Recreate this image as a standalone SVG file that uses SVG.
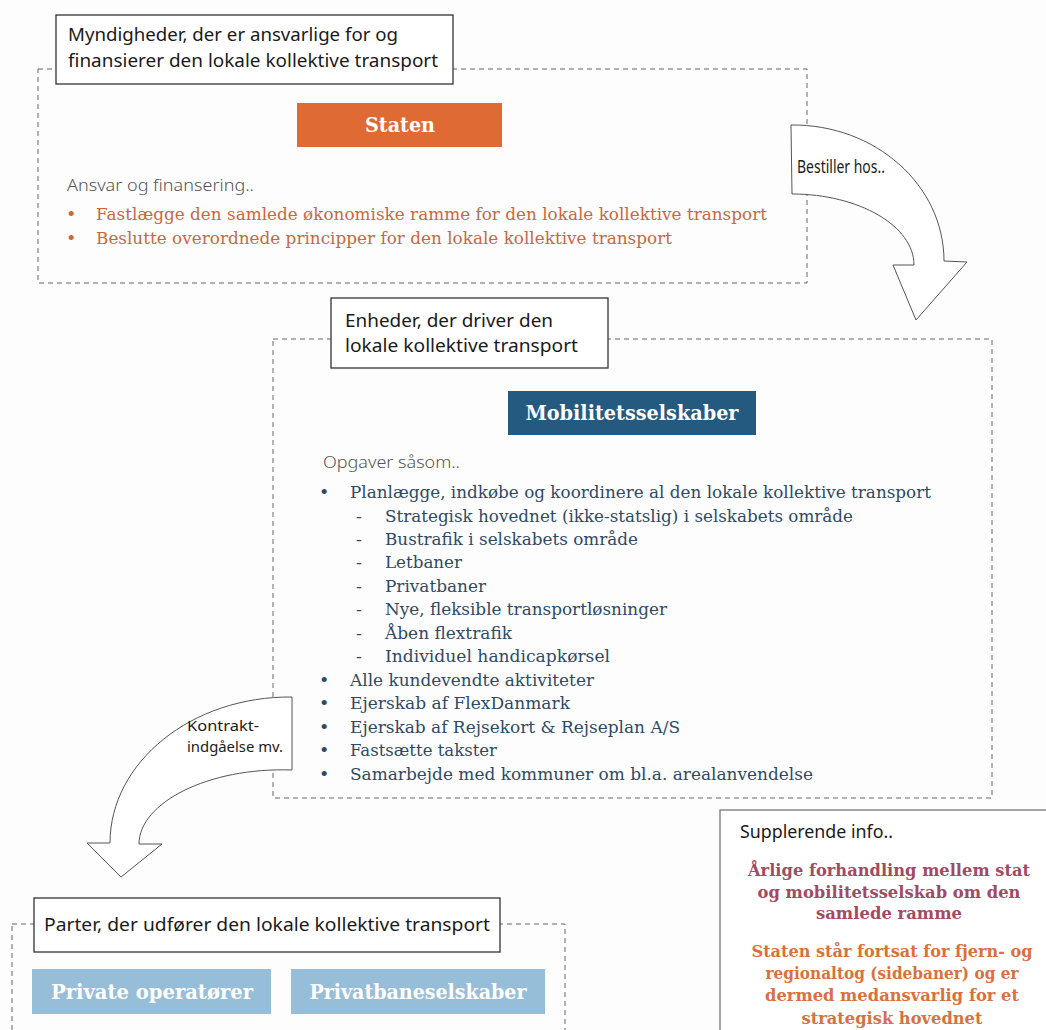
<svg xmlns="http://www.w3.org/2000/svg" width="1046" height="1030" viewBox="0 0 1046 1030">
<style>
.dash{fill:none;stroke:#666;stroke-width:1;stroke-dasharray:5 4}
.lbl{fill:#fff;stroke:#333;stroke-width:1.3}
.hw{font-family:"Noto Sans","DejaVu Sans",sans-serif;font-size:18px;fill:#1a1a1a}
.hws{font-family:"Noto Sans","DejaVu Sans",sans-serif;font-size:15px;fill:#1a1a1a}
.hwl{font-family:"Noto Sans","DejaVu Sans",sans-serif;font-size:17px;fill:#555;font-weight:300}
.ttl{font-family:"DejaVu Serif","Liberation Serif",serif;font-size:20px;font-weight:bold;fill:#fff;text-anchor:middle}
.or{font-family:"DejaVu Serif","Liberation Serif",serif;font-size:17.5px;fill:#C9683F}
.bl{font-family:"DejaVu Serif","Liberation Serif",serif;font-size:17.5px;fill:#2E4A66}
.sup1{font-family:"DejaVu Serif","Liberation Serif",serif;font-size:16.5px;font-weight:bold;fill:#A24A63;text-anchor:middle}
.sup2{font-family:"DejaVu Serif","Liberation Serif",serif;font-size:16.5px;font-weight:bold;fill:#D9713F;text-anchor:middle}
.arr{fill:#fff;stroke:#555;stroke-width:1}
</style>
<rect width="1046" height="1030" fill="#fdfdfd"/>

<g id="group-authorities">
<rect class="dash" x="38" y="69" width="769" height="214"/>
<rect class="lbl" x="56" y="15" width="397" height="69"/>
<text class="hw" x="68" y="41" textLength="330" lengthAdjust="spacingAndGlyphs">Myndigheder, der er ansvarlige for og</text>
<text class="hw" x="68" y="67" textLength="370" lengthAdjust="spacingAndGlyphs">finansierer den lokale kollektive transport</text>
</g>
<g id="node-staten">
<rect x="297" y="103" width="205" height="44" fill="#E06A34"/>
<text class="ttl" x="400" y="132" textLength="70" lengthAdjust="spacingAndGlyphs">Staten</text>
</g>
<g id="text-staten">
<text class="hwl" x="67" y="191" textLength="187" lengthAdjust="spacingAndGlyphs">Ansvar og finansering..</text>
<text class="or" x="66" y="220">•</text>
<text class="or" x="96" y="220" textLength="671" lengthAdjust="spacingAndGlyphs">Fastlægge den samlede økonomiske ramme for den lokale kollektive transport</text>
<text class="or" x="66" y="244">•</text>
<text class="or" x="96" y="244" textLength="576" lengthAdjust="spacingAndGlyphs">Beslutte overordnede principper for den lokale kollektive transport</text>
</g>

<g id="group-operators-of-transport">
<rect class="dash" x="273" y="339" width="719" height="459"/>
<rect class="lbl" x="331" y="298" width="277" height="70"/>
<text class="hw" x="345" y="327" textLength="208" lengthAdjust="spacingAndGlyphs">Enheder, der driver den</text>
<text class="hw" x="345" y="352" textLength="233" lengthAdjust="spacingAndGlyphs">lokale kollektive transport</text>
</g>
<g id="node-mobilitetsselskaber">
<rect x="508" y="391" width="248" height="44" fill="#255A80"/>
<text class="ttl" x="632" y="420" textLength="213" lengthAdjust="spacingAndGlyphs">Mobilitetsselskaber</text>
</g>
<g id="text-mobilitet">
<text class="hwl" x="323" y="468" textLength="137" lengthAdjust="spacingAndGlyphs">Opgaver såsom..</text>
<text class="bl" x="319" y="498">•</text>
<text class="bl" x="350" y="498" textLength="581" lengthAdjust="spacingAndGlyphs">Planlægge, indkøbe og koordinere al den lokale kollektive transport</text>
<text class="bl" x="356" y="522">-</text>
<text class="bl" x="385" y="522" textLength="468" lengthAdjust="spacingAndGlyphs">Strategisk hovednet (ikke-statslig) i selskabets område</text>
<text class="bl" x="356" y="545">-</text>
<text class="bl" x="385" y="545" textLength="253" lengthAdjust="spacingAndGlyphs">Bustrafik i selskabets område</text>
<text class="bl" x="356" y="568">-</text>
<text class="bl" x="385" y="568" textLength="77" lengthAdjust="spacingAndGlyphs">Letbaner</text>
<text class="bl" x="356" y="592">-</text>
<text class="bl" x="385" y="592" textLength="101" lengthAdjust="spacingAndGlyphs">Privatbaner</text>
<text class="bl" x="356" y="615">-</text>
<text class="bl" x="385" y="615" textLength="282" lengthAdjust="spacingAndGlyphs">Nye, fleksible transportløsninger</text>
<text class="bl" x="356" y="639">-</text>
<text class="bl" x="385" y="639" textLength="127" lengthAdjust="spacingAndGlyphs">Åben flextrafik</text>
<text class="bl" x="356" y="662">-</text>
<text class="bl" x="385" y="662" textLength="225" lengthAdjust="spacingAndGlyphs">Individuel handicapkørsel</text>
<text class="bl" x="319" y="686">•</text>
<text class="bl" x="350" y="686" textLength="244" lengthAdjust="spacingAndGlyphs">Alle kundevendte aktiviteter</text>
<text class="bl" x="319" y="709">•</text>
<text class="bl" x="350" y="709" textLength="220" lengthAdjust="spacingAndGlyphs">Ejerskab af FlexDanmark</text>
<text class="bl" x="319" y="733">•</text>
<text class="bl" x="350" y="733" textLength="330" lengthAdjust="spacingAndGlyphs">Ejerskab af Rejsekort &amp; Rejseplan A/S</text>
<text class="bl" x="319" y="756">•</text>
<text class="bl" x="350" y="756" textLength="147" lengthAdjust="spacingAndGlyphs">Fastsætte takster</text>
<text class="bl" x="319" y="780">•</text>
<text class="bl" x="350" y="780" textLength="463" lengthAdjust="spacingAndGlyphs">Samarbejde med kommuner om bl.a. arealanvendelse</text>
</g>

<g id="group-parties">
<rect class="dash" x="12" y="924" width="553" height="130"/>
<rect class="lbl" x="34" y="898" width="466" height="54"/>
<text class="hw" x="44" y="931" textLength="446" lengthAdjust="spacingAndGlyphs">Parter, der udfører den lokale kollektive transport</text>
</g>
<g id="node-private-operatorer">
<rect x="32" y="969" width="239" height="45" fill="#97BED8"/>
<text class="ttl" x="152" y="999" textLength="202" lengthAdjust="spacingAndGlyphs">Private operatører</text>
</g>
<g id="node-privatbaneselskaber">
<rect x="291" y="969" width="254" height="45" fill="#97BED8"/>
<text class="ttl" x="418" y="999" textLength="217" lengthAdjust="spacingAndGlyphs">Privatbaneselskaber</text>
</g>

<g id="node-supplerende">
<rect x="720" y="810" width="340" height="230" fill="#fff" stroke="#777" stroke-width="1.3"/>
<text class="hw" x="740" y="838" textLength="153" lengthAdjust="spacingAndGlyphs">Supplerende info..</text>
<text class="sup1" x="889" y="876" textLength="282" lengthAdjust="spacingAndGlyphs">Årlige forhandling mellem stat</text>
<text class="sup1" x="889" y="898" textLength="263" lengthAdjust="spacingAndGlyphs">og mobilitetsselskab om den</text>
<text class="sup1" x="889" y="919" textLength="146" lengthAdjust="spacingAndGlyphs">samlede ramme</text>
<text class="sup2" x="892" y="957" textLength="281" lengthAdjust="spacingAndGlyphs">Staten står fortsat for fjern- og</text>
<text class="sup2" x="892" y="979" textLength="253" lengthAdjust="spacingAndGlyphs">regionaltog (sidebaner) og er</text>
<text class="sup2" x="892" y="1001" textLength="254" lengthAdjust="spacingAndGlyphs">dermed medansvarlig for et</text>
<text class="sup2" x="892" y="1024" textLength="181" lengthAdjust="spacingAndGlyphs">strategisk hovednet</text>
</g>

<g id="connectors">
<g id="arrow-bestiller">
<path class="arr" d="M791,125 C875,124 944,185 944,261 L967,262 L916,320 L893,265 L914,265 C914,226 859,194 792,194 Z"/>
<text class="hw" x="797" y="173" font-size="16" textLength="88" lengthAdjust="spacingAndGlyphs">Bestiller hos..</text>
</g>
<g id="arrow-kontrakt">
<path class="arr" d="M292,697 C192,696 110,762 110,843 L87,843 L121,877 L162,844 L139,844 C139,803 208,767 292,770 Z"/>
<text class="hws" x="187" y="731" textLength="72" lengthAdjust="spacingAndGlyphs">Kontrakt-</text>
<text class="hws" x="187" y="752" textLength="96" lengthAdjust="spacingAndGlyphs">indgåelse mv.</text>
</g>
</g>
</svg>
